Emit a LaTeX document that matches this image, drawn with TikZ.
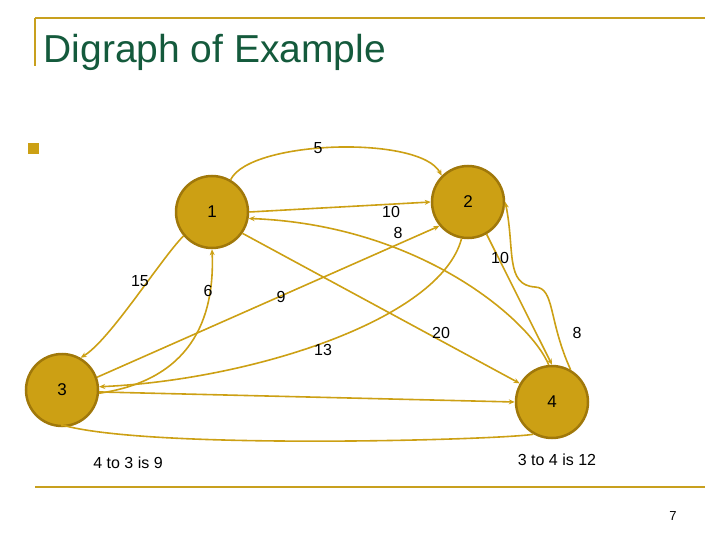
\documentclass[tikz,border=0pt]{standalone}
\usepackage{fontspec}
\setmainfont{Liberation Sans}
\usetikzlibrary{arrows.meta}
\definecolor{gold}{RGB}{204,160,20}
\definecolor{goldedge}{RGB}{160,120,10}
\definecolor{rule}{RGB}{200,160,30}
\definecolor{titlegreen}{RGB}{20,90,60}
\begin{document}
\begin{tikzpicture}[x=1pt,y=-1pt,
                    vertex/.style={circle,fill=gold,draw=goldedge,line width=2.5pt,minimum size=72pt,inner sep=0pt,font=\fontsize{17}{20}\selectfont},
                    edge/.style={draw=gold,line width=1.6pt,-{Stealth[length=6pt,width=5pt]}},
                    wlabel/.style={font=\fontsize{16}{19}\selectfont,inner sep=1pt}
                ]
  \useasboundingbox (0,0) rectangle (720,540);
  % frame of the slide
  \draw[rule,line width=2.5pt] (35,18) -- (705,18);
  \draw[rule,line width=2.5pt] (35,18) -- (35,66);
  \draw[rule,line width=2.5pt] (35,487) -- (705,487);
  \node[anchor=west,text=titlegreen,font=\fontsize{39}{44}\selectfont] (title) at (40,52) {Digraph of Example};
  \fill[gold] (28,143) rectangle (39,154);
  \node[font=\fontsize{13}{15}\selectfont] (page) at (673,516) {7};
  % vertices
  \node[vertex] (n1) at (212,212) {1};
  \node[vertex] (n2) at (468,202) {2};
  \node[vertex] (n3) at (62,390) {3};
  \node[vertex] (n4) at (552,402) {4};
  % edges
  \draw[edge] (n1.60) .. controls (250,140) and (420,135) .. (n2.135);
  \draw[edge] (n1.east) -- (n2.west);
  \draw[edge] (n4.95) .. controls (530,320) and (420,225) .. (n1.-10);
  \draw[edge] (n2.-60) -- (n4.90);
  \draw[edge] (n4.60) .. controls (548,320) and (555,288) .. (535,287) .. controls (505,285) and (515,250) .. (n2.east);
  \draw[edge] (n1.-35) -- (n4.150);
  \draw[edge] (n3.20) -- (n2.-140);
  \draw[edge] (n2.-100) .. controls (440,320) and (250,380) .. (n3.5);
  \draw[edge] (n3.-5) .. controls (190,380) and (215,320) .. (n1.-90);
  \draw[edge] (n1.-140) .. controls (160,260) and (110,340) .. (n3.60);
  \draw[edge] (n3.-3) -- (n4.180);
  \draw[edge] (n4.-120) .. controls (500,440) and (150,450) .. (62,425) -- (n3.-90);
  % weights
  \node[wlabel] (w5) at (318,148) {5};
  \node[wlabel] (w10a) at (391,212) {10};
  \node[wlabel] (w8a) at (398,233) {8};
  \node[wlabel] (w10b) at (500,258) {10};
  \node[wlabel] (w8b) at (577,333) {8};
  \node[wlabel] (w20) at (441,333) {20};
  \node[wlabel] (w9) at (281,297) {9};
  \node[wlabel] (w13) at (323,350) {13};
  \node[wlabel] (w6) at (208,291) {6};
  \node[wlabel] (w15) at (140,281) {15};
  \node[wlabel] (w34) at (557,460) {3 to 4 is 12};
  \node[wlabel] (w43) at (128,463) {4 to 3 is 9};
\end{tikzpicture}
\end{document}
